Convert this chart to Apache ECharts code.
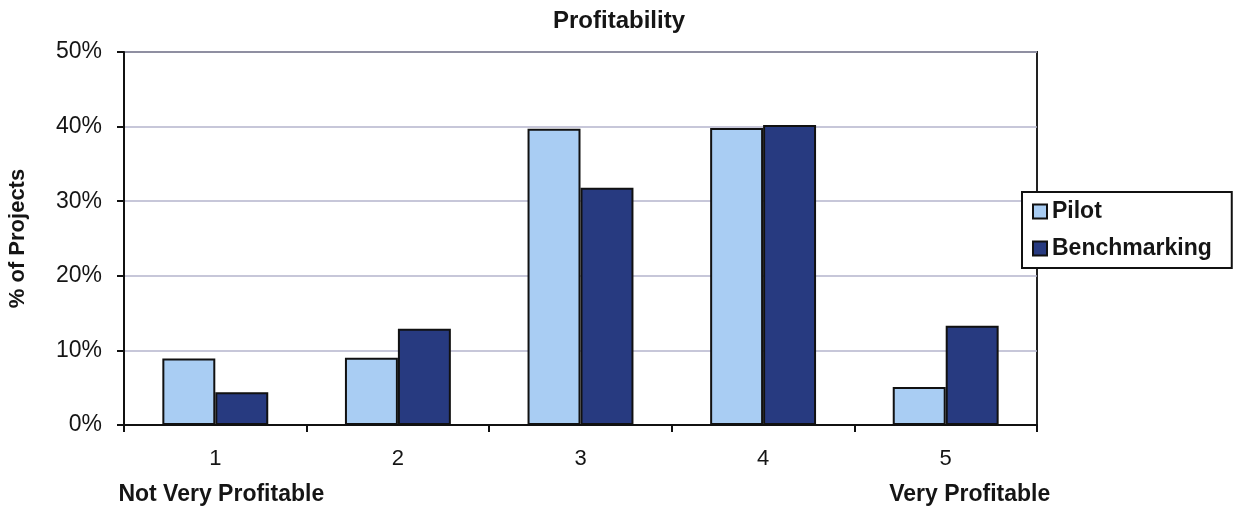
<!DOCTYPE html>
<html>
<head>
<meta charset="utf-8">
<script src="https://cdn.jsdelivr.net/npm/echarts@6/dist/echarts.min.js"></script>
<style>
  html, body { margin: 0; padding: 0; background: #ffffff; }
  #chart { width: 1238px; height: 508px; }
</style>
</head>
<body>
<div id="chart"></div>
<script>
// Profitability rating scale (1 = not very profitable, 5 = very profitable)
const categories = ['1', '2', '3', '4', '5'];
const pilotValues = [8.9, 9.0, 39.7, 39.8, 5.1];
const benchmarkingValues = [4.4, 12.9, 31.8, 40.2, 13.3];
const yTicks = [0, 10, 20, 30, 40, 50];
const scaleNotes = { '1': 'Not Very Profitable', '5': 'Very Profitable' };

const FONT = '"Liberation Sans", Arial, sans-serif';

const chart = echarts.init(document.getElementById('chart'));
chart.setOption({
  backgroundColor: '#ffffff',
  animation: false,
  title: {
    text: 'Profitability',
    left: 'center',
    top: 4,
    textStyle: { fontFamily: FONT, fontWeight: 'bold', fontSize: 24, color: '#151515' }
  },
  legend: {
    orient: 'vertical',
    left: 1022,
    top: 192,
    padding: [8, 20, 8, 10],
    itemWidth: 14,
    itemHeight: 14,
    itemGap: 14,
    borderColor: '#111',
    borderWidth: 2,
    backgroundColor: '#ffffff',
    icon: 'rect',
    textStyle: { fontFamily: FONT, fontWeight: 'bold', fontSize: 23, color: '#151515' },
    data: ['Pilot', 'Benchmarking']
  },
  grid: {
    left: 124, right: 201, top: 52, bottom: 83,
    outerBoundsMode: 'none',
    containLabel: false,
    show: true,
    borderColor: '#222',
    borderWidth: 2
  },
  xAxis: {
    type: 'category',
    data: categories,
    axisLine: { lineStyle: { color: '#111', width: 2 } },
    axisTick: { show: true, length: 7, lineStyle: { color: '#111', width: 2 } },
    axisLabel: {
      interval: 0,
      margin: 16,
      fontFamily: FONT,
      fontSize: 22,
      color: '#151515',
      lineHeight: 36,
      formatter: function (v) {
        if (v === '1') return v + '\n{lo|' + scaleNotes[v] + '}';
        if (v === '5') return v + '\n{hi|' + scaleNotes[v] + '}';
        return v;
      },
      rich: {
        lo: { fontFamily: FONT, fontWeight: 'bold', fontSize: 23, color: '#151515', lineHeight: 36, padding: [0, 0, 0, 12] },
        hi: { fontFamily: FONT, fontWeight: 'bold', fontSize: 23, color: '#151515', lineHeight: 36, padding: [0, 0, 0, 48] }
      }
    }
  },
  yAxis: {
    type: 'value',
    min: yTicks[0],
    max: yTicks[yTicks.length - 1],
    interval: 10,
    name: '% of Projects',
    nameLocation: 'middle',
    nameGap: 95,
    nameTextStyle: { fontFamily: FONT, fontWeight: 'bold', fontSize: 22, color: '#151515' },
    axisLine: { show: true, lineStyle: { color: '#111', width: 2 } },
    axisTick: { show: true, length: 7, lineStyle: { color: '#111', width: 2 } },
    axisLabel: {
      margin: 22,
      fontFamily: FONT,
      fontSize: 23,
      color: '#151515',
      formatter: function (v) { return v + '%'; }
    },
    splitLine: { show: true, lineStyle: { color: '#b4b4cc', width: 1.5 } }
  },
  series: [
    {
      name: 'Pilot',
      type: 'bar',
      data: pilotValues,
      barGap: '0%',
      barCategoryGap: '42%',
      itemStyle: { color: '#a9cdf3', borderColor: '#111', borderWidth: 2 }
    },
    {
      name: 'Benchmarking',
      type: 'bar',
      data: benchmarkingValues,
      barGap: '0%',
      barCategoryGap: '42%',
      itemStyle: { color: '#273a80', borderColor: '#111', borderWidth: 2 }
    }
  ]
});
</script>
</body>
</html>
